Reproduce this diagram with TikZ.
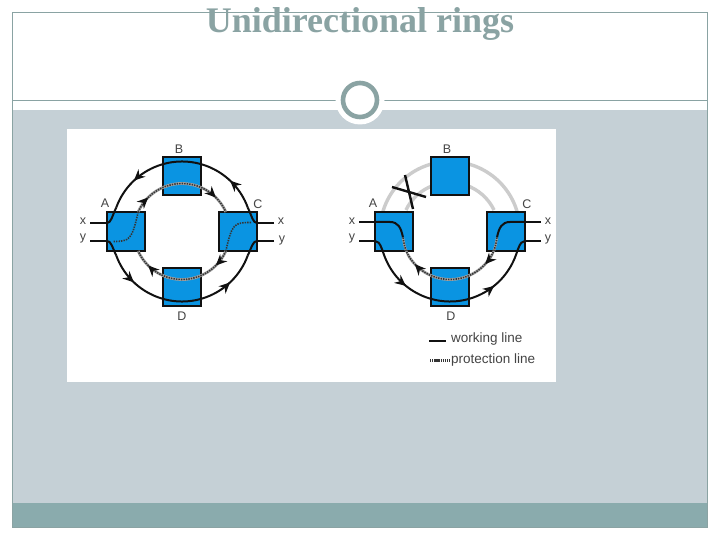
\documentclass[tikz,border=0pt]{standalone}
\usepackage{fontspec}
\setmainfont{Liberation Serif}
\setsansfont{Liberation Sans}
\usetikzlibrary{arrows.meta,decorations.markings}
\definecolor{slate}{HTML}{8AA3A3}
\definecolor{panel}{HTML}{C5D0D6}
\definecolor{barc}{HTML}{8AABAD}
\definecolor{nodeblue}{HTML}{0A94E2}
\definecolor{ink}{HTML}{111111}
\definecolor{txt}{HTML}{444444}
\definecolor{ghost}{HTML}{CCCCCC}
\tikzset{
  x=1pt,y=1pt,
  frameline/.style={draw=slate,line width=0.8pt},
  nebox/.style={draw=ink,fill=nodeblue,line width=2pt,minimum size=38pt,inner sep=0pt,outer sep=0pt},
  lab/.style={font=\sffamily\fontsize{12.5}{12.5}\selectfont,text=txt,inner sep=0pt},
  work/.style={draw=ink,line width=2pt},
  tail/.style={draw=ink,line width=2pt},
  prota/.style={draw=ghost!80!black,line width=2.8pt},
  protb/.style={draw=ink!85,line width=1.6pt,dash pattern=on 1.4pt off 1.1pt},
  dead/.style={draw=ghost,line width=3.4pt},
  tips/.style 2 args={postaction={decorate},decoration={markings,
    mark=at position #1 with {\arrow[ink]{Stealth[length=11pt,width=10pt]}},
    mark=at position #2 with {\arrow[ink]{Stealth[length=11pt,width=10pt]}}}},
}
\begin{document}
\begin{tikzpicture}
\useasboundingbox (0,0) rectangle (720,-540);
% slide
\fill[white] (0,0) rectangle (720,-540);
\fill[panel] (12,-110) rectangle (707,-503);
\fill[barc] (12,-503) rectangle (707,-527);
\draw[frameline] (12,-12) rectangle (707,-527);
\draw[frameline] (12,-100) -- (707,-100);
\fill[white] (360,-100) circle (24.5);
\draw[slate,line width=4.6pt] (360,-100) circle (17);
\node[font=\bfseries\fontsize{36}{36}\selectfont,text=slate,inner sep=0pt,anchor=base] (title) at (360,-32.5) {Unidirectional rings};
\fill[white] (67,-129) rectangle (556,-382);

% left ring
\begin{scope}[shift={(182,-231.5)}]
\node[nebox] (LB) at (0,55) {};
\node[nebox] (LA) at (-56,0) {};
\node[nebox] (LC) at (56,0) {};
\node[nebox] (LD) at (0,-55) {};
\node[lab] (LtA) at (-77,28.5) {A};
\node[lab] (LtB) at (-3,82.5) {B};
\node[lab] (LtC) at (76,27.5) {C};
\node[lab] (LtD) at (0,-84.5) {D};
\node[lab] (Ltxl) at (-99,10) {x};
\node[lab] (Ltyl) at (-99,-7) {y};
\node[lab] (Ltxr) at (99,10) {x};
\node[lab] (Ltyr) at (100,-9) {y};
\coordinate (Lxl) at (-92,8.5);
\coordinate (Lyl) at (-92,-9.5);
\coordinate (Lxr) at (92,8.5);
\coordinate (Lyr) at (92,-9.5);
\draw[tail] (Lxl) -- (LA.west |- Lxl);
\draw[tail] (Lyl) -- (LA.west |- Lyl);
\draw[tail] (Lxr) -- (LC.east |- Lxr);
\draw[tail] (Lyr) -- (LC.east |- Lyr);
% outer rings
\coordinate (Lo1) at (20:70);
\coordinate (Lo2) at (160:70);
\coordinate (Lo3) at (200:70);
\coordinate (Lo4) at (340:70);
\draw[work,tips={0.19}{0.81}] (Lo1) arc (20:160:70);
\draw[work,tips={0.19}{0.81}] (Lo3) arc (200:340:70);
\draw[work] (LA.west |- Lxl) .. controls (-71,8.5) and (-70,15) .. (Lo2);
\draw[work] (LA.west |- Lyl) .. controls (-71,-9.5) and (-70,-15) .. (Lo3);
\draw[work] (LC.east |- Lxr) .. controls (71,8.5) and (70,15) .. (Lo1);
\draw[work] (LC.east |- Lyr) .. controls (71,-9.5) and (70,-15) .. (Lo4);
% inner rings
\coordinate (Li1) at (156:48);
\coordinate (Li2) at (24:48);
\coordinate (Li3) at (-24:48);
\coordinate (Li4) at (-156:48);
\draw[prota] (Li1) arc (156:24:48);
\draw[prota] (Li3) arc (-24:-156:48);
\draw[protb,tips={0.16}{0.84}] (Li1) arc (156:24:48);
\draw[protb,tips={0.16}{0.84}] (Li3) arc (-24:-156:48);
\draw[protb] (Li1) .. controls (-50,-8) and (-52,-10) .. (-69,-10);
\draw[protb] (Li3) .. controls (50,8) and (52,9) .. (69,9);
\end{scope}

% right ring
\begin{scope}[shift={(450,-231.5)}]
\coordinate (Ro1) at (16:70);
\coordinate (Ro2) at (164:70);
\coordinate (Ri1) at (154:49);
\coordinate (Ri2) at (26:49);
\draw[dead] (Ro1) arc (16:164:70);
\draw[dead] (Ri2) arc (26:154:49);
\node[nebox] (RB) at (0,55) {};
\node[nebox] (RA) at (-56,0) {};
\node[nebox] (RC) at (56,0) {};
\node[nebox] (RD) at (0,-55) {};
\node[lab] (RtA) at (-77,28.5) {A};
\node[lab] (RtB) at (-3,82.5) {B};
\node[lab] (RtC) at (77,27.5) {C};
\node[lab] (RtD) at (1,-84.5) {D};
\node[lab] (Rtxl) at (-98,10) {x};
\node[lab] (Rtyl) at (-98,-7) {y};
\node[lab] (Rtxr) at (98,10) {x};
\node[lab] (Rtyr) at (98,-8) {y};
\coordinate (Rxl) at (-91,9.5);
\coordinate (Ryl) at (-91,-9.5);
\coordinate (Rxr) at (91,9.5);
\coordinate (Ryr) at (91,-9.5);
\draw[tail] (Rxl) -- (RA.west |- Rxl);
\draw[tail] (Ryl) -- (RA.west |- Ryl);
\draw[tail] (Rxr) -- (RC.east |- Rxr);
\draw[tail] (Ryr) -- (RC.east |- Ryr);
\coordinate (Ro3) at (205:70);
\coordinate (Ro4) at (335:70);
\draw[work,tips={0.2}{0.8}] (Ro3) arc (205:335:70);
\draw[work] (RA.west |- Ryl) .. controls (-69,-9.5) and (-68,-20) .. (Ro3);
\draw[work] (RC.east |- Ryr) .. controls (69,-9.5) and (68,-20) .. (Ro4);
\coordinate (Ri3) at (-28:48);
\coordinate (Ri4) at (-152:48);
\coordinate (Rxa) at (-60,9.5);
\coordinate (Rxb) at (-47,-6);
\coordinate (Rxc) at (60,9.5);
\coordinate (Rxd) at (47,-6);
\draw[work] (RA.west |- Rxl) -- (Rxa) .. controls (-52,9.5) and (-49,4) .. (Rxb);
\draw[work] (RC.east |- Rxr) -- (Rxc) .. controls (52,9.5) and (49,4) .. (Rxd);
\draw[prota] (Ri3) arc (-28:-152:48);
\draw[protb,tips={0.12}{0.88}] (Ri3) arc (-28:-152:48);
\draw[prota,line width=2.2pt] (Rxb) .. controls (-46,-12) and (-45,-18) .. (Ri4);
\draw[prota,line width=2.2pt] (Rxd) .. controls (46,-12) and (45,-18) .. (Ri3);
\draw[protb] (Rxb) .. controls (-46,-12) and (-45,-18) .. (Ri4);
\draw[protb] (Rxd) .. controls (46,-12) and (45,-18) .. (Ri3);
% break mark
\coordinate (Cr1) at (-45,56.5);
\coordinate (Cr2) at (-37,22.5);
\coordinate (Cr3) at (-58,44.5);
\coordinate (Cr4) at (-24,34.5);
\draw[ink,line width=2.4pt] (Cr1) -- (Cr2);
\draw[ink,line width=2.4pt] (Cr3) -- (Cr4);
\end{scope}

% legend
\coordinate (Lg1) at (429,-341);
\coordinate (Lg2) at (446,-341);
\coordinate (Lg3) at (430,-360.5);
\coordinate (Lg4) at (449,-360.5);
\draw[work] (Lg1) -- (Lg2);
\draw[protb,line width=2.2pt,dash pattern=on 1.3pt off 0.8pt] (Lg3) -- (Lg4);
\node[lab,anchor=west,font=\sffamily\fontsize{13.5}{13.5}\selectfont] (Lgw) at (451,-339) {working line};
\node[lab,anchor=west,font=\sffamily\fontsize{13.5}{13.5}\selectfont] (Lgp) at (451,-360) {protection line};
\end{tikzpicture}
\end{document}
